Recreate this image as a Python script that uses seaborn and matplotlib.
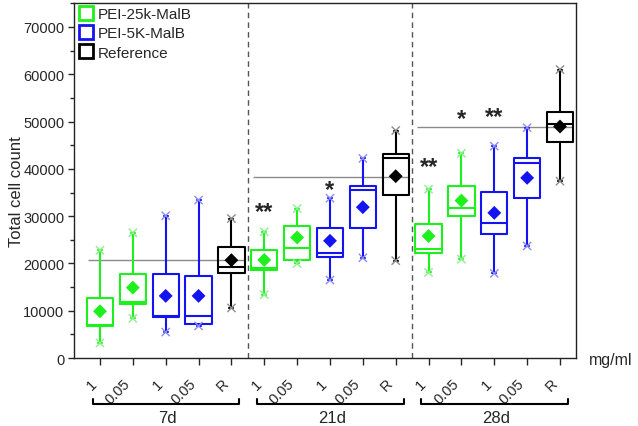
import matplotlib.pyplot as plt
import numpy as np
import pandas as pd
import seaborn as sns
from matplotlib.lines import Line2D
from matplotlib.ticker import MultipleLocator

# --- data ---------------------------------------------------------------------
days = ["7d", "21d", "28d"]
conc_labels = ["1", "0.05", "1", "0.05", "R"]
box_groups = ["PEI-25k-MalB", "PEI-25k-MalB", "PEI-5K-MalB", "PEI-5K-MalB", "Reference"]

whisker_lo = [3200, 8400, 5500, 6800, 10600,
              13400, 20000, 16500, 21200, 20600,
              18100, 20900, 17900, 23700, 37400]
q1 = [6800, 11500, 8650, 7300, 17900,
      18600, 20700, 21300, 27400, 34500,
      22300, 30000, 26200, 33900, 45600]
median = [7100, 11900, 8800, 8900, 19200,
          19100, 23300, 22200, 35500, 42300,
          23100, 31700, 28500, 41300, 49500]
q3 = [12700, 17800, 17800, 17400, 23400,
      22900, 27900, 27500, 36300, 43200,
      28300, 36400, 35100, 42300, 52000]
whisker_hi = [22800, 26500, 30100, 33400, 29500,
              26700, 31600, 33800, 42200, 48100,
              35700, 43300, 44800, 48700, 61000]
means = [9900, 14900, 13150, 13150, 20700,
         20750, 25500, 24800, 31900, 38450,
         25800, 33300, 30700, 38100, 48950]

reference_means = [20700, 38350, 48950]

# significance marks: (box index, height, label)
star_box = [5, 7, 10, 11, 12]
star_y = [30900, 35700, 40400, 50700, 51100]
star_text = ["**", "*", "**", "*", "**"]

# --- styling ------------------------------------------------------------------
palette = {"PEI-25k-MalB": "#1EF01E", "PEI-5K-MalB": "#1414F0", "Reference": "#000000"}
cap_palette = {"PEI-25k-MalB": "#8CF08C", "PEI-5K-MalB": "#8C8CF5", "Reference": "#8C8C8C"}

n_per_day = len(conc_labels)
n_box = len(days) * n_per_day
positions = np.arange(n_box)
group_of_box = box_groups * len(days)

# five-number boxes: quartiles of [lo, q1, med, q3, hi] are exactly q1/med/q3
rows = []
for i in range(n_box):
    for v in (whisker_lo[i], q1[i], median[i], q3[i], whisker_hi[i]):
        rows.append({"pos": positions[i], "count": v, "group": group_of_box[i]})
df = pd.DataFrame(rows)

sns.set_style("ticks")
plt.rcParams["font.family"] = ["Liberation Sans", "DejaVu Sans"]

fig = plt.figure(figsize=(6.38, 4.27), dpi=100)
ax = fig.add_axes([0.116, 0.159, 0.787, 0.831])

sns.boxplot(
    data=df, x="pos", y="count", hue="group", palette=palette,
    native_scale=True, fill=False, whis=np.inf, width=0.8, dodge=False,
    linewidth=1.5, legend=False, capwidths=0.12, ax=ax,
)

ends = pd.DataFrame({
    "pos": np.concatenate([positions, positions]),
    "count": whisker_lo + whisker_hi,
    "group": group_of_box * 2,
})
sns.scatterplot(data=ends, x="pos", y="count", hue="group", palette=cap_palette,
                marker="x", s=35, linewidth=1.0, legend=False, zorder=4, ax=ax)

mean_df = pd.DataFrame({"pos": positions, "count": means, "group": group_of_box})
sns.scatterplot(data=mean_df, x="pos", y="count", hue="group", palette=palette,
                marker="D", s=50, linewidth=0, legend=False, zorder=5, ax=ax)

# reference-mean lines and day separators
for d, ref in enumerate(reference_means):
    start = d * n_per_day
    ax.hlines(ref, start - 0.35, start + n_per_day - 1 + 0.4, color="#8a8a8a", lw=1.0, zorder=1)
for d in range(1, len(days)):
    ax.axvline(d * n_per_day - 0.5, color="#555555", lw=1.0, ls=(0, (4, 3)), zorder=1)

for b, y, t in zip(star_box, star_y, star_text):
    ax.text(positions[b], y, t, ha="center", va="center", fontsize=17, fontweight="bold")

ax.set_xlim(-0.79, 14.49)
ax.set_ylim(0, 75000)
ax.yaxis.set_major_locator(MultipleLocator(10000))
ax.yaxis.set_minor_locator(MultipleLocator(5000))
ax.set_xticks(positions)
ax.set_xticklabels(conc_labels * len(days), rotation=45, ha="right", fontsize=10.5)
ax.tick_params(axis="x", length=5, width=1, pad=8)
ax.tick_params(axis="y", which="major", length=4, width=1, labelsize=10.5, pad=3)
ax.tick_params(axis="y", which="minor", length=3, width=1)
for s in ax.spines.values():
    s.set_linewidth(1.0)
    s.set_color("#222222")
ax.set_xlabel("")
ax.set_ylabel("Total cell count", fontsize=12, va="center")
ax.yaxis.set_label_coords(-0.115, 0.473)

# group brackets under the tick labels
trans = ax.get_xaxis_transform()
for d, day in enumerate(days):
    x0 = d * n_per_day - 0.22
    x1 = d * n_per_day + n_per_day - 1 + 0.24
    ax.plot([x0, x0, x1, x1], [-0.115, -0.128, -0.128, -0.115], color="black",
            lw=1.5, transform=trans, clip_on=False)
    ax.text(d * n_per_day + 2.05, -0.168, day, ha="center", va="center",
            fontsize=12, transform=trans)
ax.text(1.025, -0.005, "mg/ml", ha="left", va="center", fontsize=11.5, transform=ax.transAxes)

handles = [Line2D([], [], ls="none", marker="s", markersize=10, markerfacecolor="none",
                  markeredgecolor=palette[g], markeredgewidth=2)
           for g in palette]
ax.legend(handles, list(palette), loc="upper left", frameon=False, fontsize=11,
          handletextpad=0.2, labelspacing=0.35, borderaxespad=0.05, handlelength=1.1,
          borderpad=0.2)

fig.savefig("out.png", dpi=100)
